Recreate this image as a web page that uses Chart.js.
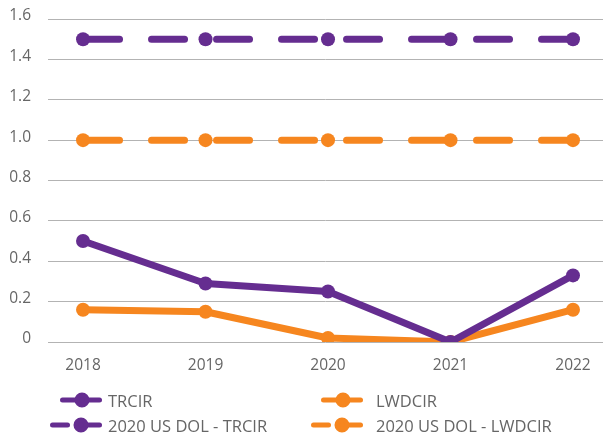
<!DOCTYPE html>
<html>
<head>
<meta charset="utf-8">
<script src="https://cdn.jsdelivr.net/npm/chart.js@4/dist/chart.umd.min.js"></script>
<style>
  body { margin: 0; background: #fff; }
  #wrap { position: relative; width: 603px; height: 438px; }
  #chart { position: absolute; left: 0; top: 0; }
  .legend-item { position: absolute; height: 20px; display: flex; align-items: center;
    font-family: "Open Sans", sans-serif; font-size: 16.5px; color: #666; white-space: nowrap; }
  .legend-item svg { display: block; }
</style>
</head>
<body>
<div id="wrap">
  <canvas id="chart" width="603" height="438"></canvas>
  <div id="legend"></div>
</div>
<script>
const years = [2018, 2019, 2020, 2021, 2022];
const trcir = [0.50, 0.29, 0.25, 0.00, 0.33];
const lwdcir = [0.16, 0.15, 0.02, 0.00, 0.16];
const dolTrcir = [1.5, 1.5, 1.5, 1.5, 1.5];
const dolLwdcir = [1.0, 1.0, 1.0, 1.0, 1.0];
const yTickLabels = ['0', '0.2', '0.4', '0.6', '0.8', '1.0', '1.2', '1.4', '1.6'];

const purple = '#652d90';
const orange = '#f6861f';

const toPoints = vals => vals.map((v, i) => ({ x: years[i], y: v }));

function lineSet(label, vals, color, dashed) {
    return {
        label: label,
        data: toPoints(vals),
        borderColor: color,
        backgroundColor: color,
        pointBackgroundColor: color,
        pointBorderWidth: 0,
        pointRadius: 7,
        pointHoverRadius: 7,
        borderWidth: 7,
        borderCapStyle: 'round',
        borderJoinStyle: 'round',
        borderDash: dashed ? [33, 32] : [],
        borderDashOffset: dashed ? -3.5 : 0,
        tension: 0,
        dashed: dashed
    };
}

const datasets = [
    lineSet('TRCIR', trcir, purple, false),
    lineSet('LWDCIR', lwdcir, orange, false),
    lineSet('2020 US DOL - TRCIR', dolTrcir, purple, true),
    lineSet('2020 US DOL - LWDCIR', dolLwdcir, orange, true)
];

const tickFont = { family: '"Open Sans", sans-serif', size: 15.5 };

const chart = new Chart(document.getElementById('chart'), {
    type: 'line',
    data: { datasets: datasets },
    options: {
        responsive: false,
        animation: false,
        layout: { autoPadding: false, padding: { top: 19, right: 0, bottom: 66, left: 0 } },
        plugins: { legend: { display: false }, tooltip: { enabled: false } },
        scales: {
            x: {
                type: 'linear',
                min: 2017.714,
                max: 2022.245,
                grid: { display: false, drawTicks: false },
                border: { display: false },
                afterBuildTicks: s => { s.ticks = years.map(v => ({ value: v })); },
                afterFit: s => { s.height = 30; s.paddingLeft = 0; s.paddingRight = 0; },
                ticks: { color: '#666', font: tickFont, padding: 14, callback: v => String(v) }
            },
            y: {
                min: 0,
                max: 1.6,
                grid: { color: '#b3b3b3', lineWidth: 1, drawTicks: false },
                border: { display: false },
                afterBuildTicks: s => { s.ticks = yTickLabels.map((t, i) => ({ value: i * 0.2 })); },
                afterFit: s => { s.width = 48; s.paddingTop = 0; s.paddingBottom = 0; },
                ticks: {
                    color: '#666', font: tickFont, padding: 17, labelOffset: -3,
                    callback: (v, i) => yTickLabels[i]
                }
            }
        }
    }
});

// legend laid out in two columns
const legendPos = [
    { left: 40, top: 390, end: 102, text: 108 },
    { left: 300, top: 390, end: 363, text: 376 },
    { left: 40, top: 415, end: 102, text: 108 },
    { left: 300, top: 415, end: 363, text: 376 }
];
const legend = document.getElementById('legend');
chart.data.datasets.forEach((ds, k) => {
    const p = legendPos[k];
    const w = p.text - p.left;
    const e = p.end - p.left;
    let marks;
    if (ds.dashed) {
        marks = `<line x1="${e - 49.5}" y1="10" x2="${e - 34.5}" y2="10" />` +
                `<line x1="${e - 23.5}" y1="10" x2="${e - 2.5}" y2="10" />` +
                `<circle cx="${e - 21}" cy="10" r="5" />`;
    } else {
        marks = `<line x1="${e - 39.5}" y1="10" x2="${e - 2.5}" y2="10" />` +
                `<circle cx="${e - 20}" cy="10" r="5" />`;
    }
    const item = document.createElement('div');
    item.className = 'legend-item';
    item.style.left = p.left + 'px';
    item.style.top = p.top + 'px';
    item.innerHTML = `<svg width="${w}" height="20" stroke="${ds.borderColor}" fill="${ds.borderColor}"
        stroke-width="5" stroke-linecap="round">${marks}</svg><span>${ds.label}</span>`;
    legend.appendChild(item);
});
</script>
</body>
</html>
